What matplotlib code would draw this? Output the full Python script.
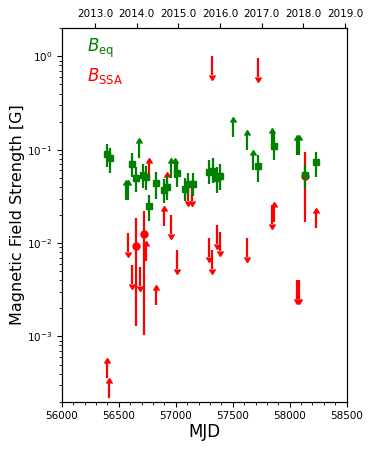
import numpy as np
import matplotlib
matplotlib.use('Agg')
import matplotlib.pyplot as plt
from matplotlib.ticker import MultipleLocator, FixedLocator

# Beq detections (MJD, value, upper end, lower end)
eq_mjd = [56395, 56424, 56614, 56652, 56716, 56739, 56825, 56768, 56900, 56926,
          57014, 57084, 57111, 57149, 57292, 57323, 57360, 57389, 57722, 57865,
          58137, 58233]
eq_val = [0.0894, 0.081, 0.0704, 0.0502, 0.0537, 0.0507, 0.0437, 0.0252, 0.0371, 0.0402,
          0.056, 0.0377, 0.0427, 0.0427, 0.0582, 0.0597, 0.0495, 0.0527, 0.0675, 0.1105,
          0.0537, 0.0734]
eq_hi = [0.115, 0.1037, 0.0923, 0.0653, 0.0704, 0.0667, 0.0578, 0.0328, 0.0486, 0.0526,
         0.0739, 0.05, 0.0563, 0.0563, 0.0777, 0.0814, 0.0653, 0.0704, 0.0879, 0.151,
         0.0685, 0.0953]
eq_lo = [0.0658, 0.0568, 0.0514, 0.0352, 0.0389, 0.0372, 0.0297, 0.0172, 0.0269, 0.0291,
         0.0399, 0.0283, 0.0321, 0.0321, 0.043, 0.0442, 0.0343, 0.0371, 0.0451, 0.0777,
         0.0389, 0.0514]

# Beq lower limits
eq_ll_mjd = [56564, 56582, 56681, 56956, 56991, 57505, 57628, 57681, 57845, 58061, 58079]
eq_ll_val = [0.029, 0.029, 0.081, 0.0498, 0.0498, 0.138, 0.0994, 0.0607, 0.1045, 0.0879, 0.0879]

# BSSA detections
ssa_mjd = [56652, 56718, 58137]
ssa_val = [0.0093, 0.0124, 0.0524]
ssa_hi = [0.0186, 0.0221, 0.0946]
ssa_lo = [0.00129, 0.00104, 0.017]

# BSSA lower limits
ssa_ll_mjd = [56767, 56926, 56900, 56739, 56825, 56395, 56418, 57862, 58233]
ssa_ll_val = [0.0498, 0.0353, 0.0153, 0.00647, 0.00217, 3.59e-4, 2.19e-4, 0.0168, 0.0144]

# BSSA upper limits
ssa_ul_mjd = [57318, 57722, 56579, 56614, 56687, 56959, 57014, 57105, 57140, 57292,
              57321, 57360, 57389, 57628, 57845, 58064, 58079]
ssa_ul_val = [1.0, 0.96, 0.0128, 0.00582, 0.00554, 0.02, 0.00844, 0.0451, 0.0451, 0.0113,
              0.00844, 0.0156, 0.0131, 0.0113, 0.0256, 0.00402, 0.00402]

years = [2013, 2014, 2015, 2016, 2017, 2018, 2019]


def mjd_to_year(m):
    return 2000.0 + (np.asarray(m) - 51544.5) / 365.25


plt.rcParams['lines.markersize'] = 5

fig = plt.figure(figsize=(3.74, 4.49), dpi=100)
ax = fig.add_axes([0.165, 0.1054, 0.762, 0.8316])

lw = 1.6
# arrow lengths on the log axis
up_len = 0.448
dn_len = 0.369

# red first
v = np.array(ssa_val)
ax.errorbar(ssa_mjd, v, yerr=[v - np.array(ssa_lo), np.array(ssa_hi) - v],
            fmt='o', color='red', ms=5, elinewidth=lw, capsize=0)
v = np.array(ssa_ll_val)
ax.errorbar(ssa_ll_mjd, v, yerr=up_len * v, lolims=True, fmt='none',
            color='red', ecolor='red', mec='red', mfc='red',
            elinewidth=lw, capsize=0)
v = np.array(ssa_ul_val)
ax.errorbar(ssa_ul_mjd, v, yerr=dn_len * v, uplims=True, fmt='none',
            color='red', ecolor='red', mec='red', mfc='red',
            elinewidth=lw, capsize=0)

# green
v = np.array(eq_val)
ax.errorbar(eq_mjd, v, yerr=[v - np.array(eq_lo), np.array(eq_hi) - v],
            fmt='s', color='green', ms=5, elinewidth=lw, capsize=0)
v = np.array(eq_ll_val)
ax.errorbar(eq_ll_mjd, v, yerr=up_len * v, lolims=True, fmt='none',
            color='green', ecolor='green', mec='green', mfc='green',
            elinewidth=lw, capsize=0)

ax.set_yscale('log')
ax.set_ylim(2e-4, 2)
ax.set_xlim(56000, 58500)
ax.xaxis.set_major_locator(MultipleLocator(500))
ax.xaxis.set_minor_locator(MultipleLocator(100))
ax.tick_params(labelsize=7.5)

ax.set_xlabel('MJD', fontsize=12, labelpad=1)
ax.set_ylabel('Magnetic Field Strength [G]', fontsize=11.5, labelpad=1)

ax.text(0.09, 0.945, r'$B_{\rm eq}$', color='green', fontsize=12,
        transform=ax.transAxes, va='center')
ax.text(0.09, 0.873, r'$B_{\rm SSA}$', color='red', fontsize=12,
        transform=ax.transAxes, va='center')

# top axis in decimal years
ax2 = ax.twiny()
ax2.set_xlim(mjd_to_year(56000), mjd_to_year(58500))
ax2.xaxis.set_major_locator(FixedLocator(years))
ax2.set_xticklabels(['%.1f' % y for y in years])
ax2.tick_params(labelsize=7.5)

fig.savefig('out.png', dpi=100)
